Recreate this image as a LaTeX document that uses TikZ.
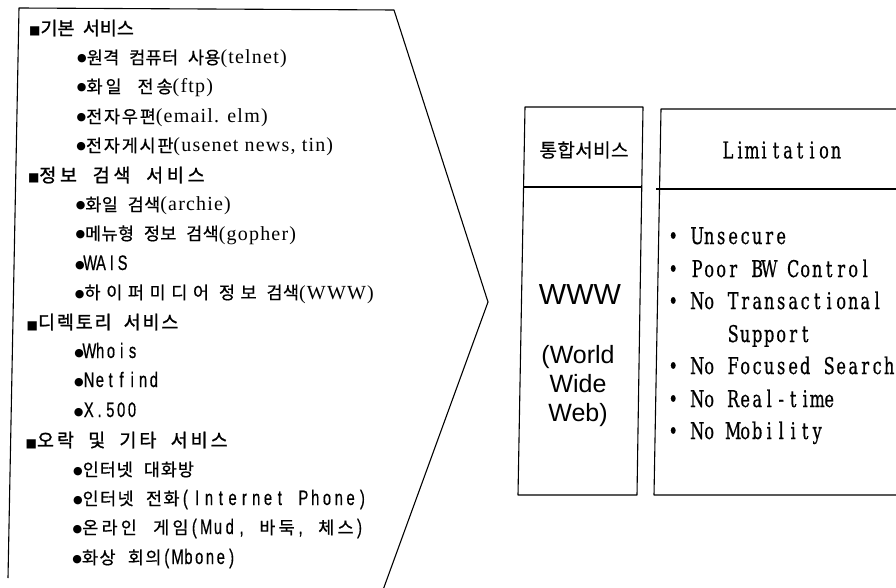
\documentclass[tikz,border=0pt]{standalone}
\usepackage{fontspec}
\newfontfamily\kr[LetterSpace=2,WordSpace=2.3,FakeBold=0.6]{Noto Sans CJK KR}
\newfontfamily\krh[LetterSpace=0,WordSpace=2.0,FakeBold=1.2]{Noto Sans CJK KR}
\newfontfamily\tms[LetterSpace=6]{Liberation Serif}
\newfontfamily\gl[FakeStretch=0.7,FakeBold=0.5]{Liberation Sans}
\newfontfamily\monof[FakeStretch=0.7,FakeBold=0.6]{DejaVu Serif}
\newfontfamily\arl{Liberation Sans}
\newfontfamily\dv{DejaVu Sans}
\def\mend{mend-marker}
\def\cw{11pt}
\def\mstr#1{\mloop#1\mend}
\def\mloop#1{\ifx#1\mend\else\makebox[\cw][c]{#1}\expandafter\mloop\fi}
\newcommand\gm[1]{{\gl\fontsize{21}{21}\selectfont\def\cw{10.8pt}\mstr{#1}}}
\newcommand\gmw[1]{{\gl\fontsize{21}{21}\selectfont\def\cw{11.8pt}\mstr{#1}}}
\newcommand\mn[1]{{\monof\fontsize{23}{23}\selectfont\def\cw{12pt}\mstr{#1}}}
\newcommand\tm[1]{{\tms\fontsize{20}{20}\selectfont #1}}
\newcommand\ls[2]{{\addfontfeature{LetterSpace=#1}#2}}
\newcommand\bul{\raisebox{2pt}{\dv\fontsize{11}{11}\selectfont ●}}
\newcommand\sq{{\dv\fontsize{12}{12}\selectfont ■}}
\tikzset{
  itm/.style={anchor=base west, inner sep=0pt, font=\kr\fontsize{17.5}{17.5}\selectfont},
  hd/.style={anchor=base west, inner sep=0pt, font=\krh\fontsize{18.5}{18.5}\selectfont},
  lim/.style={anchor=base west, inner sep=0pt},
  frame/.style={line width=1.1pt, line join=round}
}
\begin{document}
\begin{tikzpicture}[x=1pt,y=-1pt]
\useasboundingbox (0,0) rectangle (896,588);
% left chevron panel
\coordinate (c1) at (8,578);
\coordinate (c2) at (19,8);
\coordinate (c3) at (394,10);
\coordinate (c4) at (488,302);
\coordinate (c5) at (383,590);
\draw[frame] (c1) -- (c2) -- (c3) -- (c4) -- (c5);
% left texts
\node[hd]  (l0)  at (29.0, 35)  {\sq 기본 서비스};
\node[itm] (l1)  at (77.0, 64)  {\bul 원격 컴퓨터 사용\tm{(telnet)}};
\node[itm] (l2)  at (76.7, 93)  {\bul\ls{17}{화일 전송}\tm{(ftp)}};
\node[itm] (l3)  at (76.4, 123) {\bul\ls{10}{전자우편}\tm{(email. elm)}};
\node[itm] (l4)  at (76.2, 152) {\bul\ls{10}{전자게시판}\tm{(usenet news, tin)}};
\node[hd]  (l5)  at (27.8, 182) {\sq\ls{20}{정보 검색 서비스}};
\node[itm] (l6)  at (75.6, 211) {\bul 화일 검색\tm{(archie)}};
\node[itm] (l7)  at (75.3, 240) {\bul 메뉴형 정보 검색\tm{(gopher)}};
\node[itm] (l8)  at (75.0, 270) {\bul\gm{WAIS}};
\node[itm] (l9)  at (74.7, 299) {\bul\ls{32}{하이퍼미디어} \ls{32}{정보} 검색\tm{(WWW)}};
\node[hd]  (l10) at (26.5, 329) {\sq\ls{10}{디렉토리 서비스}};
\node[itm] (l11) at (74.2, 358) {\bul\gm{Whois}};
\node[itm] (l12) at (73.9, 387) {\bul\gm{Netfind}};
\node[itm] (l13) at (73.6, 417) {\bul\gm{X.500}};
\node[hd]  (l14) at (25.5, 447) {\sq\ls{16}{오락 및 기타 서비스}};
\node[itm] (l15) at (73.0, 476) {\bul\ls{5}{인터넷 대화방}};
\node[itm] (l16) at (72.8, 505) {\bul\ls{8}{인터넷 전화}\gmw{(Internet~Phone)}};
\node[itm] (l17) at (72.5, 534) {\bul\ls{18}{온라인 게임}\gmw{(Mud,~}\ls{18}{바둑}\gmw{,~}\ls{18}{체스}\gmw{)}};
\node[itm] (l18) at (72.2, 564) {\bul\ls{8}{화상 회의}\gm{(Mbone)}};
% box 1
\coordinate (a1) at (525,107);
\coordinate (a2) at (643,107);
\coordinate (a3) at (637,495);
\coordinate (a4) at (518,495);
\coordinate (a5) at (523.4,187);
\coordinate (a6) at (641.8,187);
\draw[frame] (a1) -- (a2) -- (a3) -- (a4) -- cycle;
\draw[frame] (a5) -- (a6);
\node (t1) at (584,150) {\kr\fontsize{19}{19}\selectfont 통합서비스};
\node (www) at (580,295) {\arl\fontsize{29}{29}\selectfont WWW};
\node[align=center, font=\arl\fontsize{25}{29}\selectfont] (wsub) at (578,386) {(World\\Wide\\Web)};
% box 2
\coordinate (b1) at (898,109);
\coordinate (b2) at (661,109);
\coordinate (b3) at (654,495);
\coordinate (b4) at (898,495);
\coordinate (b5) at (656.3,189);
\coordinate (b6) at (898,189);
\draw[frame] (b1) -- (b2) -- (b3) -- (b4);
\draw[frame] (b5) -- (b6);
\node (t2) at (782,150) {\mn{Limitation}};
\node[lim] (r1) at (667,244) {\mn{•~Unsecure}};
\node[lim] (r2) at (667,277) {\mn{•~Poor~BW~Control}};
\node[lim] (r3) at (667,309) {\mn{•~No~Transactional}};
\node[lim] (r4) at (667,342) {\mn{~~~~~Support}};
\node[lim] (r5) at (667,374) {\mn{•~No~Focused~Search}};
\node[lim] (r6) at (667,407) {\mn{•~No~Real-time}};
\node[lim] (r7) at (667,439) {\mn{•~No~Mobility}};
\end{tikzpicture}
\end{document}
